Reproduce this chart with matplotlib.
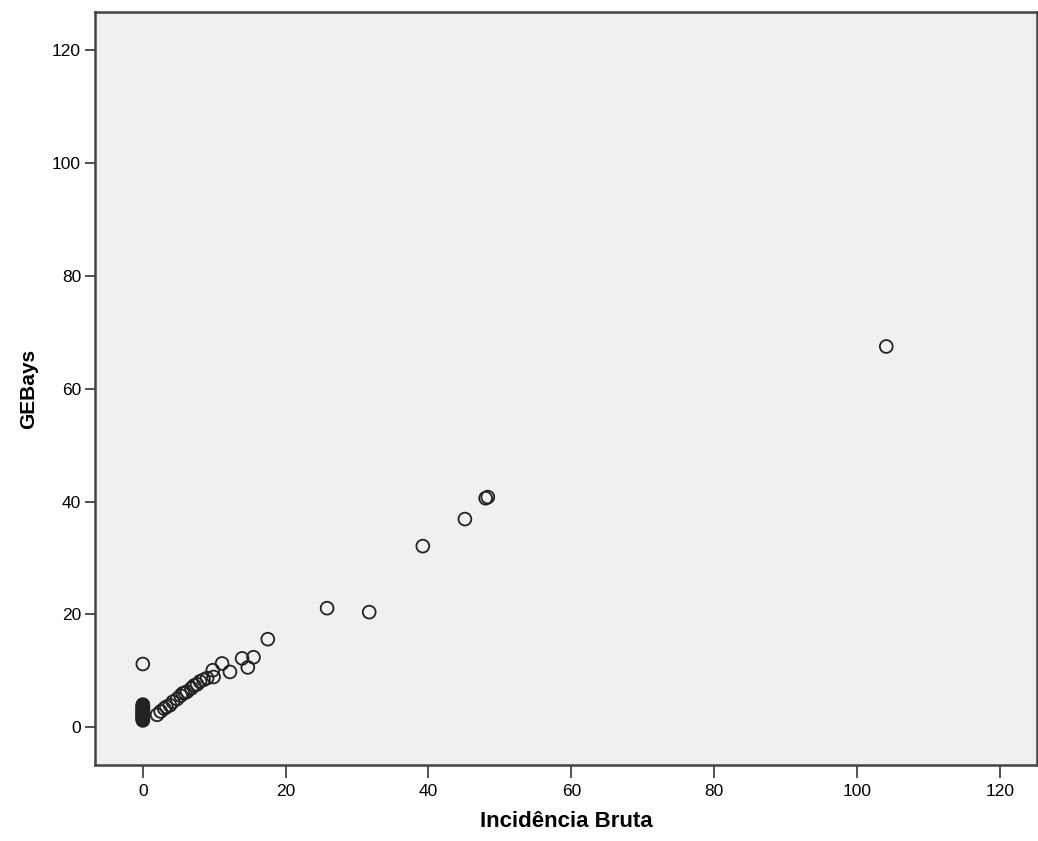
import matplotlib
matplotlib.use("Agg")
import matplotlib.pyplot as plt

plt.rcParams['font.family'] = ['Liberation Sans', 'DejaVu Sans']

# Incidencia Bruta (x) vs GEBays (y)
zero_col_y = [1.2, 1.4, 1.5, 1.7, 1.9, 2.0, 2.2, 2.4, 2.6, 2.8, 3.0, 3.2, 3.4, 3.6, 3.8, 4.0]
inc_bruta = [0.0] * len(zero_col_y) + [
    0.0, 2.0, 2.5, 3.0, 3.3, 3.8, 4.2, 4.8, 5.3, 5.6, 5.9, 6.2, 6.8, 7.2, 7.6,
    8.0, 8.5, 9.0, 9.9, 9.8, 11.1, 12.2, 13.9, 14.7, 15.5, 17.5, 25.8, 31.7,
    39.2, 45.1, 48.0, 48.3, 104.1,
]
ge_bays = zero_col_y + [
    11.2, 2.2, 2.8, 3.3, 3.6, 3.9, 4.5, 5.0, 5.6, 6.0, 6.1, 6.3, 6.9, 7.4, 7.6,
    8.1, 8.4, 8.7, 8.9, 10.1, 11.3, 9.8, 12.2, 10.6, 12.4, 15.6, 21.1, 20.4,
    32.1, 36.9, 40.6, 40.8, 67.5,
]

fig = plt.figure(figsize=(10.38, 8.41), dpi=100)
ax = fig.add_axes([0.0915, 0.0904, 0.9075, 0.8953])
ax.set_facecolor('#f0f0f0')

ax.scatter(inc_bruta, ge_bays, s=85, facecolors='none', edgecolors='#222222', linewidths=1.3)

ax.set_xlim(-6.7, 125.2)
ax.set_ylim(-6.7, 126.8)
ax.set_xticks(range(0, 121, 20))
ax.set_yticks(range(0, 121, 20))

for sp in ax.spines.values():
    sp.set_color('#444444')
    sp.set_linewidth(1.8)

ax.tick_params(axis='x', length=9, width=1.2, color='#333333', labelsize=12.5, pad=5)
ax.tick_params(axis='y', length=7, width=1.2, color='#333333', labelsize=12.5, pad=3)

ax.set_xlabel('Incidência Bruta', fontsize=16, fontweight='bold', labelpad=8)
ax.set_ylabel('GEBays', fontsize=15, fontweight='bold', labelpad=10)

fig.savefig('out.png', dpi=100, facecolor='white')
